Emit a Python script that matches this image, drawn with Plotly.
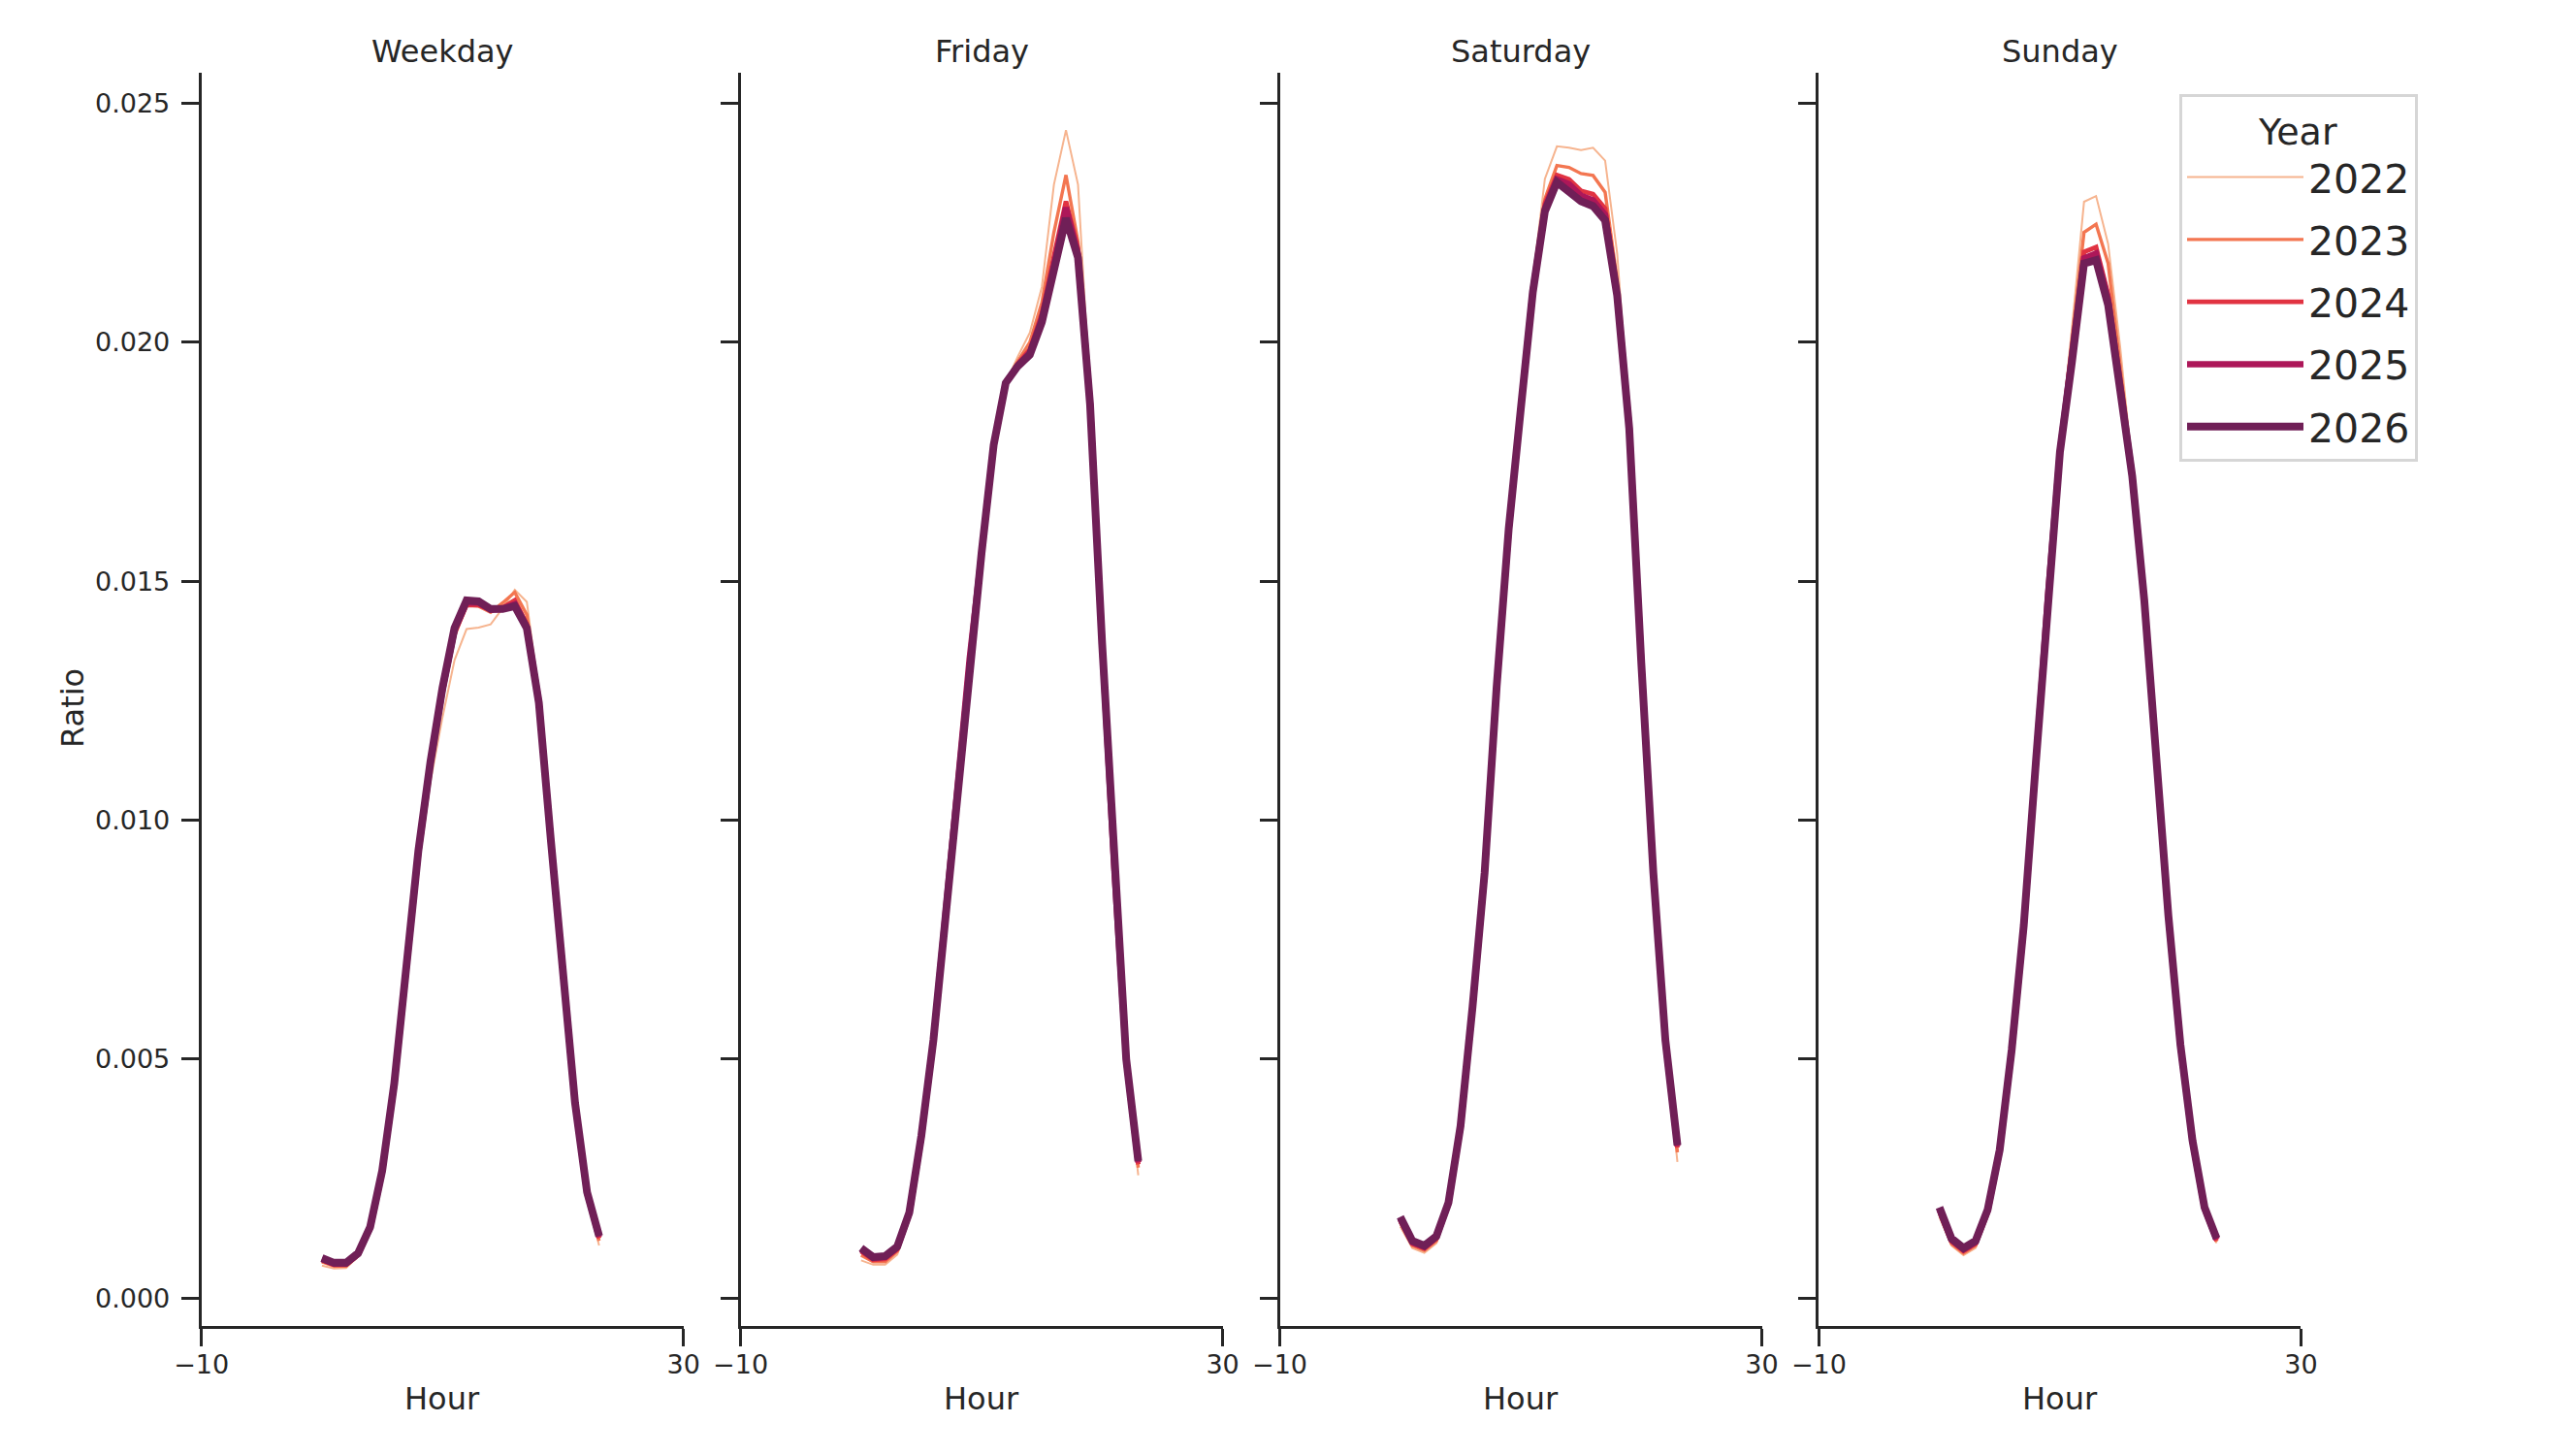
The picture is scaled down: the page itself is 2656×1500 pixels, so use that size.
import plotly.graph_objects as go
from plotly.subplots import make_subplots

# Data: hourly ratio by day type and year
HOURS = list(range(24))
YEARS = ["2022", "2023", "2024", "2025", "2026"]
PANELS = ["Weekday", "Friday", "Saturday", "Sunday"]

weekday_2022 = [0.00068, 0.00062, 0.00063, 0.00087, 0.00143, 0.00260, 0.00435, 0.00665, 0.00900, 0.01080, 0.01215, 0.01335,
                0.01400, 0.01403, 0.01410, 0.01444, 0.01482, 0.01457, 0.01265, 0.00962, 0.00662, 0.00398, 0.00208, 0.00110]
weekday_2023 = [0.00076, 0.00067, 0.00067, 0.00089, 0.00145, 0.00263, 0.00444, 0.00682, 0.00925, 0.01108, 0.01258, 0.01385,
                0.01450, 0.01448, 0.01435, 0.01455, 0.01477, 0.01430, 0.01255, 0.00960, 0.00665, 0.00402, 0.00215, 0.00120]
weekday_2024 = [0.00080, 0.00070, 0.00070, 0.00091, 0.00146, 0.00264, 0.00445, 0.00684, 0.00930, 0.01115, 0.01268, 0.01392,
                0.01450, 0.01450, 0.01440, 0.01445, 0.01460, 0.01410, 0.01250, 0.00958, 0.00666, 0.00405, 0.00218, 0.00125]
weekday_2025 = [0.00082, 0.00072, 0.00072, 0.00092, 0.00147, 0.00265, 0.00447, 0.00686, 0.00933, 0.01118, 0.01272, 0.01398,
                0.01456, 0.01455, 0.01440, 0.01442, 0.01452, 0.01405, 0.01248, 0.00958, 0.00668, 0.00408, 0.00220, 0.00128]
weekday_2026 = [0.00084, 0.00074, 0.00074, 0.00094, 0.00149, 0.00267, 0.00449, 0.00688, 0.00936, 0.01122, 0.01277, 0.01402,
                0.01460, 0.01458, 0.01442, 0.01442, 0.01448, 0.01402, 0.01246, 0.00957, 0.00668, 0.00409, 0.00222, 0.00130]

friday_2022 = [0.00079, 0.00070, 0.00070, 0.00091, 0.00165, 0.00325, 0.00525, 0.00785, 0.01065, 0.01330, 0.01555, 0.01785,
               0.01915, 0.01970, 0.02020, 0.02116, 0.02330, 0.02444, 0.02330, 0.01890, 0.01390, 0.00895, 0.00480, 0.00257]
friday_2023 = [0.00090, 0.00076, 0.00076, 0.00098, 0.00172, 0.00332, 0.00532, 0.00792, 0.01072, 0.01334, 0.01560, 0.01785,
               0.01915, 0.01960, 0.02000, 0.02083, 0.02230, 0.02350, 0.02210, 0.01880, 0.01380, 0.00898, 0.00490, 0.00273]
friday_2024 = [0.00098, 0.00080, 0.00082, 0.00102, 0.00175, 0.00336, 0.00536, 0.00796, 0.01076, 0.01336, 0.01560, 0.01785,
               0.01915, 0.01955, 0.01985, 0.02060, 0.02180, 0.02295, 0.02196, 0.01875, 0.01370, 0.00898, 0.00495, 0.00280]
friday_2025 = [0.00102, 0.00084, 0.00086, 0.00106, 0.00177, 0.00338, 0.00538, 0.00798, 0.01078, 0.01338, 0.01560, 0.01785,
               0.01915, 0.01952, 0.01978, 0.02050, 0.02160, 0.02282, 0.02185, 0.01872, 0.01370, 0.00900, 0.00498, 0.00284]
friday_2026 = [0.00105, 0.00086, 0.00088, 0.00108, 0.00179, 0.00340, 0.00540, 0.00800, 0.01080, 0.01340, 0.01560, 0.01785,
               0.01915, 0.01950, 0.01974, 0.02042, 0.02143, 0.02260, 0.02177, 0.01870, 0.01370, 0.00900, 0.00500, 0.00287]

saturday_2022 = [0.00150, 0.00105, 0.00095, 0.00115, 0.00188, 0.00348, 0.00598, 0.00878, 0.01270, 0.01605, 0.01870, 0.02130,
                 0.02342, 0.02410, 0.02407, 0.02402, 0.02407, 0.02380, 0.02186, 0.01840, 0.01345, 0.00885, 0.00520, 0.00285]
saturday_2023 = [0.00158, 0.00110, 0.00100, 0.00120, 0.00193, 0.00353, 0.00603, 0.00883, 0.01273, 0.01605, 0.01865, 0.02115,
                 0.02300, 0.02370, 0.02366, 0.02353, 0.02349, 0.02314, 0.02130, 0.01830, 0.01340, 0.00890, 0.00530, 0.00305]
saturday_2024 = [0.00162, 0.00114, 0.00104, 0.00125, 0.00196, 0.00356, 0.00606, 0.00886, 0.01276, 0.01606, 0.01862, 0.02110,
                 0.02290, 0.02350, 0.02341, 0.02317, 0.02310, 0.02280, 0.02110, 0.01825, 0.01335, 0.00890, 0.00535, 0.00315]
saturday_2025 = [0.00166, 0.00117, 0.00107, 0.00128, 0.00198, 0.00358, 0.00608, 0.00888, 0.01278, 0.01608, 0.01860, 0.02108,
                 0.02280, 0.02341, 0.02331, 0.02307, 0.02297, 0.02267, 0.02100, 0.01822, 0.01332, 0.00890, 0.00538, 0.00318]
saturday_2026 = [0.00170, 0.00120, 0.00110, 0.00130, 0.00200, 0.00360, 0.00610, 0.00890, 0.01280, 0.01610, 0.01860, 0.02105,
                 0.02274, 0.02335, 0.02315, 0.02295, 0.02285, 0.02255, 0.02098, 0.01820, 0.01330, 0.00890, 0.00540, 0.00320]

sunday_2022 = [0.00170, 0.00110, 0.00090, 0.00105, 0.00170, 0.00298, 0.00508, 0.00768, 0.01108, 0.01470, 0.01785, 0.02030,
               0.02294, 0.02306, 0.02206, 0.01990, 0.01740, 0.01470, 0.01130, 0.00790, 0.00515, 0.00315, 0.00175, 0.00115]
sunday_2023 = [0.00176, 0.00114, 0.00094, 0.00110, 0.00176, 0.00303, 0.00513, 0.00773, 0.01113, 0.01470, 0.01780, 0.02010,
               0.02230, 0.02247, 0.02165, 0.01950, 0.01730, 0.01465, 0.01130, 0.00795, 0.00522, 0.00320, 0.00180, 0.00118]
sunday_2024 = [0.00182, 0.00119, 0.00099, 0.00114, 0.00180, 0.00306, 0.00516, 0.00776, 0.01116, 0.01470, 0.01775, 0.01972,
               0.02189, 0.02199, 0.02100, 0.01920, 0.01725, 0.01462, 0.01130, 0.00798, 0.00525, 0.00325, 0.00185, 0.00120]
sunday_2025 = [0.00186, 0.00122, 0.00102, 0.00117, 0.00182, 0.00308, 0.00518, 0.00778, 0.01118, 0.01470, 0.01772, 0.01965,
               0.02176, 0.02186, 0.02090, 0.01910, 0.01722, 0.01460, 0.01130, 0.00800, 0.00528, 0.00328, 0.00188, 0.00123]
sunday_2026 = [0.00190, 0.00125, 0.00105, 0.00120, 0.00185, 0.00310, 0.00520, 0.00780, 0.01120, 0.01470, 0.01770, 0.01960,
               0.02165, 0.02172, 0.02078, 0.01900, 0.01720, 0.01460, 0.01130, 0.00800, 0.00530, 0.00330, 0.00190, 0.00125]

Y_TICKS = [0.0, 0.005, 0.010, 0.015, 0.020, 0.025]
X_TICKS = [-10, 30]

series = {
    "Weekday": [weekday_2022, weekday_2023, weekday_2024, weekday_2025, weekday_2026],
    "Friday": [friday_2022, friday_2023, friday_2024, friday_2025, friday_2026],
    "Saturday": [saturday_2022, saturday_2023, saturday_2024, saturday_2025, saturday_2026],
    "Sunday": [sunday_2022, sunday_2023, sunday_2024, sunday_2025, sunday_2026],
}

# rocket_r style colours and growing widths
colors = ["#f6b48f", "#f37651", "#e13342", "#ad1759", "#701f57"]
widths = [2, 3.4, 4.8, 6.4, 8]

# page body has an 8px margin, so the figure is drawn 8px smaller and shifted
PAD = 8
W, H = 2656 - PAD, 1500 - PAD
ink = "#262626"
font_family = "DejaVu Sans"


def px_x(p):
    return (p - PAD) / W


def px_y(p):
    return 1 - (p - PAD) / H


fig = make_subplots(rows=1, cols=4, shared_yaxes=True)

for i, panel in enumerate(PANELS):
    for j, year in enumerate(YEARS):
        fig.add_trace(
            go.Scatter(
                x=HOURS,
                y=series[panel][j],
                mode="lines",
                name=year,
                legendgroup=year,
                showlegend=(i == 0),
                line=dict(color=colors[j], width=widths[j]),
            ),
            row=1, col=i + 1,
        )

# panel placement (screen pixels -> paper)
left0, panel_w, step = 207.7, 497.0, 555.9
y_dom = [px_y(1366.7), px_y(75)]

for i, panel in enumerate(PANELS):
    x0 = px_x(left0 + i * step)
    x1 = px_x(left0 + panel_w + i * step)
    sfx = "" if i == 0 else str(i + 1)
    fig.layout["xaxis" + sfx].domain = [x0, x1]
    fig.layout["yaxis" + sfx].domain = y_dom
    fig.add_annotation(text=panel, x=(x0 + x1) / 2, y=px_y(53), xref="paper", yref="paper",
                       showarrow=False, xanchor="center", yanchor="middle",
                       font=dict(size=32, color=ink, family=font_family))
    fig.add_annotation(text="Hour", x=(x0 + x1) / 2, y=px_y(1442), xref="paper", yref="paper",
                       showarrow=False, xanchor="center", yanchor="middle",
                       font=dict(size=32, color=ink, family=font_family))

fig.add_annotation(text="Ratio", x=px_x(75), y=px_y(730), xref="paper", yref="paper",
                   showarrow=False, textangle=-90, xanchor="center", yanchor="middle",
                   font=dict(size=32, color=ink, family=font_family))

fig.update_xaxes(
    range=[-10, 30], tickvals=X_TICKS, ticks="outside", ticklen=18, tickwidth=3, tickcolor=ink,
    showline=True, linewidth=3, linecolor=ink, showgrid=False, zeroline=False,
    tickfont=dict(size=27, color=ink, family=font_family), ticklabelstandoff=-4, automargin=False,
)
fig.update_yaxes(
    range=[-0.000576, 0.02564], tickvals=Y_TICKS, tickformat=".3f", ticks="outside", ticklen=18,
    tickwidth=3, tickcolor=ink, showline=True, linewidth=3, linecolor=ink, showgrid=False,
    zeroline=False, tickfont=dict(size=27, color=ink, family=font_family), ticklabelstandoff=6,
    automargin=False,
)

fig.update_layout(
    template="none",
    width=W, height=H,
    margin=dict(l=0, r=0, t=0, b=0),
    paper_bgcolor="white",
    plot_bgcolor="white",
    font=dict(family=font_family, color=ink),
    showlegend=True,
    legend=dict(
        x=px_x(2247), y=px_y(97), xanchor="left", yanchor="top",
        bgcolor="white", bordercolor="#d6d6d6", borderwidth=3,
        font=dict(size=41, color=ink, family=font_family),
        title=dict(text="Year", side="top center", font=dict(size=38, color=ink, family=font_family)),
        tracegroupgap=8, itemwidth=120,
    ),
)

fig.write_html("out.html")
